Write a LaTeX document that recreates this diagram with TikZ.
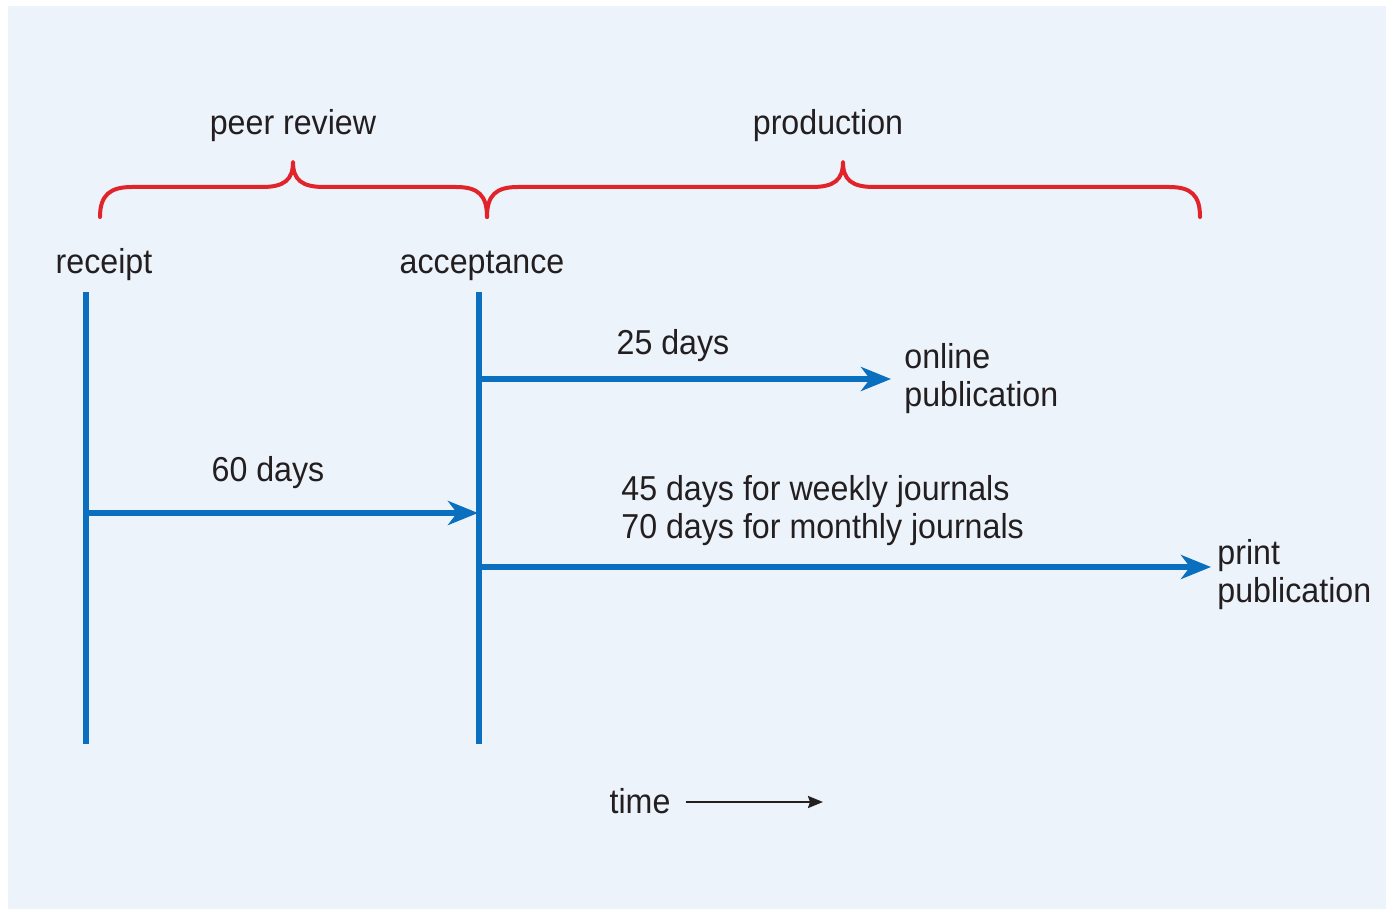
\documentclass[tikz,border=0pt]{standalone}
\usepackage{fontspec}
\setmainfont{Liberation Sans}[FakeStretch=0.93]
\usepackage{tikz}
\usetikzlibrary{arrows.meta}
\definecolor{my_text}{HTML}{231F20}
\definecolor{my_panel}{HTML}{EDF3FB}
\definecolor{my_blue}{HTML}{0B6FBF}
\definecolor{my_red}{HTML}{E1242A}

\begin{document}
\begin{tikzpicture}[
    x=0.5pt, y=-0.5pt,
    line cap=butt,
    line join=round,
    every node/.style={font=\fontsize{17.3}{19}\selectfont, text=my_text, inner sep=0pt},
    stage/.style={anchor=base},
    timeline/.style={line width=2.6pt, draw=my_blue},
    interval/.style={line width=2.6pt, draw=my_blue, -{Stealth[length=15pt, width=12pt, inset=4.5pt]}},
    phase/.style={line width=2pt, draw=my_red, line cap=round}
]

% Page and panel
\useasboundingbox (0,0) rectangle (1386,909);
\fill[white] (0,0) rectangle (1386,909);
\fill[my_panel] (8,6) rectangle (1386,909);

% Phase labels and braces
\node[stage] (peer) at (293,135) {peer review};
\node[stage] (prod) at (828,135) {production};

\draw[phase]
    (100,217) .. controls (100,195) and (110,187) .. (132,187) --
    (262,187) .. controls (284,187) and (293,180) .. (293,162)
    .. controls (293,180) and (302,187) .. (324,187) --
    (456,187) .. controls (478,187) and (487,195) .. (487,217);
\draw[phase]
    (487,217) .. controls (487,195) and (496,187) .. (518,187) --
    (812,187) .. controls (834,187) and (843,180) .. (843,162)
    .. controls (843,180) and (852,187) .. (874,187) --
    (1169,187) .. controls (1191,187) and (1200,195) .. (1200,217);

% Milestones
\node[stage] (receipt) at (104,273) {receipt};
\node[stage] (accept) at (482,273) {acceptance};

\coordinate (receipt-top) at (86,292);
\coordinate (receipt-bot) at (86,744);
\coordinate (accept-top)  at (479,292);
\coordinate (accept-bot)  at (479,744);

\draw[timeline] (receipt-top) -- (receipt-bot);
\draw[timeline] (accept-top) -- (accept-bot);

% Review interval
\coordinate (review-start) at (86,513);
\coordinate (review-end)   at (478,513);
\draw[interval] (review-start) -- (review-end);
\node[stage] (review-days) at (268,481) {60 days};

% Online publication
\coordinate (online-start) at (479,379);
\coordinate (online-end)   at (891,379);
\draw[interval] (online-start) -- (online-end);
\node[stage] (online-days) at (673,354) {25 days};
\node[anchor=north west, align=left] (online) at (904,343) {online\\publication};

% Print publication
\coordinate (print-start) at (479,567);
\coordinate (print-end)   at (1211,567);
\draw[interval] (print-start) -- (print-end);
\node[anchor=north west, align=left] (print-days) at (621,475)
    {45 days for weekly journals\\70 days for monthly journals};
\node[anchor=north west, align=left] (print) at (1217,539) {print\\publication};

% Time direction
\node[stage] (time) at (640,813) {time};
\coordinate (time-start) at (686,802);
\coordinate (time-end) at (823,802);
\draw[line width=1.1pt, draw=my_text, -{Stealth[length=7.5pt, width=6pt, inset=1pt]}]
    (time-start) -- (time-end);

\end{tikzpicture}
\end{document}
